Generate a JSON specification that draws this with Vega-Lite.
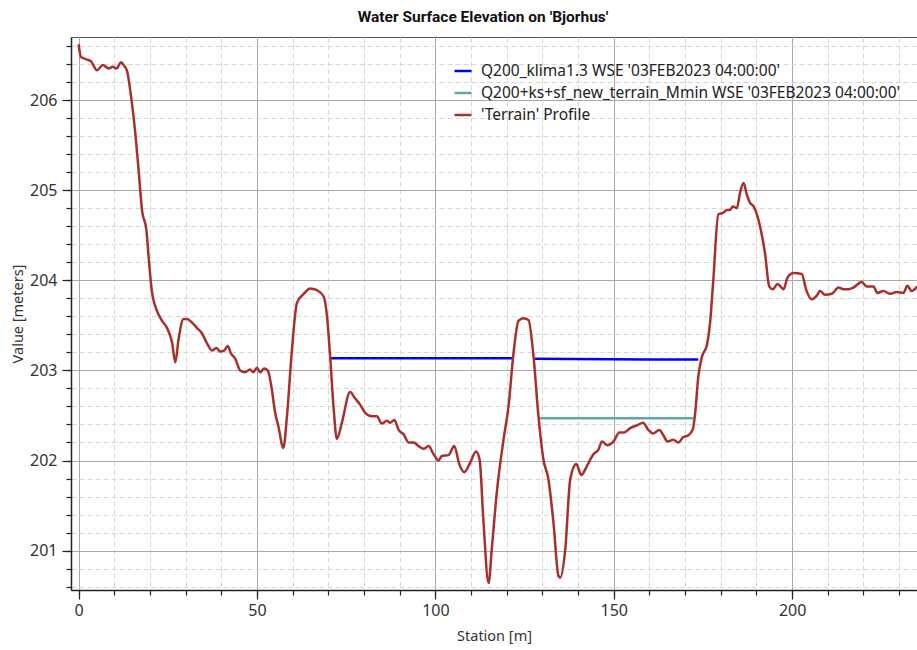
{
  "$schema": "https://vega.github.io/schema/vega-lite/v6.json",
  "width": 846,
  "height": 553,
  "autosize": "none",
  "padding": {"left": 71, "top": 37, "right": 0, "bottom": 60},
  "background": "white",
  "title": {
    "text": "Water Surface Elevation on 'Bjorhus'",
    "fontSize": 15.5,
    "fontWeight": "bold",
    "font": "Roboto",
    "color": "#111",
    "offset": 12,
    "dx": -11
  },
  "config": {
    "font": "Noto Sans",
    "view": {"stroke": "#555", "strokeWidth": 1}
  },
  "datasets": {
    "wse": [
      {"station": 70.6, "wse": 203.135, "series": "Q200_klima1.3 WSE '03FEB2023 04:00:00'", "seg": "a1"},
      {"station": 121.5, "wse": 203.135, "series": "Q200_klima1.3 WSE '03FEB2023 04:00:00'", "seg": "a1"},
      {"station": 127.5, "wse": 203.13, "series": "Q200_klima1.3 WSE '03FEB2023 04:00:00'", "seg": "a2"},
      {"station": 137.7, "wse": 203.127, "series": "Q200_klima1.3 WSE '03FEB2023 04:00:00'", "seg": "a2"},
      {"station": 159.7, "wse": 203.122, "series": "Q200_klima1.3 WSE '03FEB2023 04:00:00'", "seg": "a2"},
      {"station": 173.7, "wse": 203.12, "series": "Q200_klima1.3 WSE '03FEB2023 04:00:00'", "seg": "a2"},
      {"station": 129.2, "wse": 202.47, "series": "Q200+ks+sf_new_terrain_Mmin WSE '03FEB2023 04:00:00'", "seg": "b1"},
      {"station": 172.3, "wse": 202.47, "series": "Q200+ks+sf_new_terrain_Mmin WSE '03FEB2023 04:00:00'", "seg": "b1"}
    ],
    "terrain": [
      {"station": 0, "elev": 206.62}, {"station": 0.67, "elev": 206.48}, {"station": 2.35, "elev": 206.45},
      {"station": 3.5, "elev": 206.43}, {"station": 5.15, "elev": 206.33}, {"station": 6.8, "elev": 206.39},
      {"station": 8.4, "elev": 206.35}, {"station": 9.6, "elev": 206.37}, {"station": 10.6, "elev": 206.35},
      {"station": 11.9, "elev": 206.42}, {"station": 12.6, "elev": 206.39}, {"station": 13.6, "elev": 206.32},
      {"station": 14.5, "elev": 206.10}, {"station": 15.9, "elev": 205.63}, {"station": 16.8, "elev": 205.23},
      {"station": 17.8, "elev": 204.77}, {"station": 19.0, "elev": 204.56}, {"station": 19.6, "elev": 204.27},
      {"station": 20.6, "elev": 203.86}, {"station": 21.5, "elev": 203.71}, {"station": 22.4, "elev": 203.62},
      {"station": 23.4, "elev": 203.55}, {"station": 24.8, "elev": 203.47}, {"station": 26.2, "elev": 203.31},
      {"station": 27.1, "elev": 203.09}, {"station": 28.0, "elev": 203.34}, {"station": 29.4, "elev": 203.57},
      {"station": 30.4, "elev": 203.57}, {"station": 31.8, "elev": 203.53}, {"station": 33.2, "elev": 203.47},
      {"station": 34.6, "elev": 203.41}, {"station": 36.0, "elev": 203.30}, {"station": 37.4, "elev": 203.22},
      {"station": 38.6, "elev": 203.25}, {"station": 39.7, "elev": 203.21}, {"station": 40.8, "elev": 203.22},
      {"station": 41.8, "elev": 203.27}, {"station": 42.7, "elev": 203.19}, {"station": 43.9, "elev": 203.13},
      {"station": 45.3, "elev": 203.00}, {"station": 46.7, "elev": 202.98}, {"station": 48.0, "elev": 203.01},
      {"station": 49.0, "elev": 202.98}, {"station": 50.0, "elev": 203.03}, {"station": 50.9, "elev": 202.98},
      {"station": 52.0, "elev": 203.02}, {"station": 53.0, "elev": 203.00}, {"station": 54.2, "elev": 202.78},
      {"station": 55.0, "elev": 202.55}, {"station": 56.0, "elev": 202.38}, {"station": 57.4, "elev": 202.14},
      {"station": 58.4, "elev": 202.49}, {"station": 59.8, "elev": 203.23}, {"station": 61.2, "elev": 203.75},
      {"station": 63.1, "elev": 203.85}, {"station": 64.9, "elev": 203.91}, {"station": 66.8, "elev": 203.89},
      {"station": 68.7, "elev": 203.82}, {"station": 69.6, "elev": 203.61}, {"station": 70.5, "elev": 203.16},
      {"station": 71.5, "elev": 202.57}, {"station": 72.4, "elev": 202.24}, {"station": 73.8, "elev": 202.42},
      {"station": 76.1, "elev": 202.76}, {"station": 77.5, "elev": 202.69}, {"station": 78.9, "elev": 202.62},
      {"station": 80.3, "elev": 202.53}, {"station": 82.2, "elev": 202.49}, {"station": 83.6, "elev": 202.49},
      {"station": 85.0, "elev": 202.41}, {"station": 86.4, "elev": 202.44}, {"station": 87.3, "elev": 202.42},
      {"station": 88.5, "elev": 202.45}, {"station": 89.7, "elev": 202.34}, {"station": 91.1, "elev": 202.29},
      {"station": 92.5, "elev": 202.20}, {"station": 93.9, "elev": 202.20}, {"station": 95.3, "elev": 202.16},
      {"station": 96.7, "elev": 202.13}, {"station": 98.1, "elev": 202.16}, {"station": 99.5, "elev": 202.07},
      {"station": 100.9, "elev": 202.00}, {"station": 101.8, "elev": 202.05}, {"station": 103.7, "elev": 202.06},
      {"station": 105.3, "elev": 202.16}, {"station": 106.7, "elev": 201.96}, {"station": 108.1, "elev": 201.87},
      {"station": 109.8, "elev": 201.98}, {"station": 111.4, "elev": 202.10}, {"station": 112.4, "elev": 202.01},
      {"station": 113.5, "elev": 201.31}, {"station": 114.9, "elev": 200.64}, {"station": 115.8, "elev": 201.01},
      {"station": 117.2, "elev": 201.64}, {"station": 119.1, "elev": 202.23}, {"station": 120.5, "elev": 202.60},
      {"station": 121.9, "elev": 203.19}, {"station": 123.3, "elev": 203.55}, {"station": 124.7, "elev": 203.58},
      {"station": 126.1, "elev": 203.56}, {"station": 127.5, "elev": 203.16}, {"station": 128.9, "elev": 202.49},
      {"station": 130.3, "elev": 202.01}, {"station": 131.7, "elev": 201.79}, {"station": 133.1, "elev": 201.31},
      {"station": 134.5, "elev": 200.72}, {"station": 135.0, "elev": 200.70}, {"station": 136.4, "elev": 201.01},
      {"station": 137.8, "elev": 201.79}, {"station": 139.5, "elev": 201.96}, {"station": 140.9, "elev": 201.84},
      {"station": 142.5, "elev": 201.94}, {"station": 144.3, "elev": 202.07}, {"station": 145.7, "elev": 202.12},
      {"station": 146.7, "elev": 202.21}, {"station": 148.2, "elev": 202.17}, {"station": 149.9, "elev": 202.21},
      {"station": 151.6, "elev": 202.31}, {"station": 152.9, "elev": 202.31}, {"station": 154.6, "elev": 202.36},
      {"station": 156.5, "elev": 202.39}, {"station": 158.2, "elev": 202.42}, {"station": 159.7, "elev": 202.34},
      {"station": 161.1, "elev": 202.30}, {"station": 162.8, "elev": 202.34}, {"station": 163.9, "elev": 202.28},
      {"station": 165.1, "elev": 202.21}, {"station": 166.7, "elev": 202.23}, {"station": 168.1, "elev": 202.20},
      {"station": 169.5, "elev": 202.26}, {"station": 170.9, "elev": 202.28}, {"station": 172.2, "elev": 202.35},
      {"station": 172.8, "elev": 202.52}, {"station": 173.7, "elev": 202.93}, {"station": 174.7, "elev": 203.15},
      {"station": 176.1, "elev": 203.28}, {"station": 177.0, "elev": 203.53}, {"station": 177.9, "elev": 204.00},
      {"station": 179.3, "elev": 204.73}, {"station": 180.7, "elev": 204.75}, {"station": 181.7, "elev": 204.78},
      {"station": 182.6, "elev": 204.78}, {"station": 183.4, "elev": 204.82}, {"station": 184.5, "elev": 204.80},
      {"station": 185.4, "elev": 204.97}, {"station": 186.4, "elev": 205.08}, {"station": 187.3, "elev": 204.95},
      {"station": 188.2, "elev": 204.86}, {"station": 189.2, "elev": 204.82}, {"station": 191.0, "elev": 204.60},
      {"station": 192.4, "elev": 204.30}, {"station": 193.6, "elev": 203.93}, {"station": 194.6, "elev": 203.90},
      {"station": 195.9, "elev": 203.96}, {"station": 197.6, "elev": 203.90}, {"station": 198.7, "elev": 204.03},
      {"station": 200.4, "elev": 204.08}, {"station": 202.7, "elev": 204.07}, {"station": 203.9, "elev": 203.90},
      {"station": 205.5, "elev": 203.79}, {"station": 206.9, "elev": 203.83}, {"station": 207.8, "elev": 203.88},
      {"station": 209.2, "elev": 203.84}, {"station": 211.1, "elev": 203.85}, {"station": 213.0, "elev": 203.92},
      {"station": 214.4, "elev": 203.90}, {"station": 215.8, "elev": 203.90}, {"station": 217.2, "elev": 203.92},
      {"station": 219.5, "elev": 203.98}, {"station": 220.9, "elev": 203.93}, {"station": 222.8, "elev": 203.93},
      {"station": 223.9, "elev": 203.86}, {"station": 225.6, "elev": 203.88}, {"station": 227.5, "elev": 203.85},
      {"station": 229.3, "elev": 203.87}, {"station": 231.2, "elev": 203.86}, {"station": 232.3, "elev": 203.94},
      {"station": 233.5, "elev": 203.88}, {"station": 235.0, "elev": 203.93}
    ]
  },
  "layer": [
    {
      "data": {"name": "wse"},
      "mark": {"type": "line", "strokeWidth": 2.5, "clip": true},
      "encoding": {
        "x": {
          "field": "station", "type": "quantitative",
          "scale": {"domain": [-2.13, 235.0], "nice": false, "zero": false},
          "axis": {
            "orient": "bottom",
            "values": [0,10,20,30,40,50,60,70,80,90,100,110,120,130,140,150,160,170,180,190,200,210,220,230],
            "labels": false, "domain": false, "title": null,
            "tickSize": 5, "tickColor": "#222", "tickWidth": 1.2,
            "grid": true, "gridColor": "#d6d6d6", "gridDash": [5, 3], "gridWidth": 1
          }
        },
        "y": {
          "field": "wse", "type": "quantitative",
          "scale": {"domain": [200.563, 206.70], "nice": false, "zero": false},
          "axis": {
            "orient": "left",
            "values": [200.6,200.8,201.0,201.2,201.4,201.6,201.8,202.0,202.2,202.4,202.6,202.8,203.0,203.2,203.4,203.6,203.8,204.0,204.2,204.4,204.6,204.8,205.0,205.2,205.4,205.6,205.8,206.0,206.2,206.4,206.6],
            "labels": false, "domain": false, "title": null,
            "tickSize": 5, "tickColor": "#222", "tickWidth": 1.2,
            "grid": true, "gridColor": "#d6d6d6", "gridDash": [5, 3], "gridWidth": 1
          }
        },
        "detail": {"field": "seg"},
        "color": {
          "field": "series", "type": "nominal",
          "scale": {
            "domain": ["Q200_klima1.3 WSE '03FEB2023 04:00:00'", "Q200+ks+sf_new_terrain_Mmin WSE '03FEB2023 04:00:00'", "'Terrain' Profile"],
            "range": ["#0000ff", "#5fa9a4", "#a8302c"]
          },
          "legend": {
            "orient": "none",
            "legendX": 382,
            "legendY": 24,
            "title": null,
            "padding": 0,
            "symbolType": "stroke",
            "symbolSize": 289,
            "symbolStrokeWidth": 2.5,
            "labelFontSize": 15.5,
            "labelColor": "#222",
            "labelOffset": 8,
            "labelLimit": 700,
            "rowPadding": 3
          }
        }
      }
    },
    {
      "data": {"name": "terrain"},
      "transform": [{"calculate": "\"'Terrain' Profile\"", "as": "series"}],
      "mark": {"type": "line", "strokeWidth": 2.5, "interpolate": "monotone", "clip": true},
      "encoding": {
        "x": {
          "field": "station", "type": "quantitative",
          "axis": {
            "orient": "bottom",
            "values": [0, 50, 100, 150, 200],
            "format": "d",
            "title": "Station [m]",
            "grid": true, "gridColor": "#a9a9a9", "gridWidth": 1,
            "domain": true, "domainColor": "#222", "domainWidth": 1.5,
            "tickSize": 9, "tickColor": "#222", "tickWidth": 1.2,
            "labelFontSize": 16, "labelColor": "#333", "labelPadding": 3,
            "titleFontSize": 14.5, "titleFontWeight": "normal", "titleColor": "#333", "titlePadding": 11
          }
        },
        "y": {
          "field": "elev", "type": "quantitative",
          "axis": {
            "orient": "left",
            "values": [201, 202, 203, 204, 205, 206],
            "format": "d",
            "title": "Value [meters]",
            "grid": true, "gridColor": "#a9a9a9", "gridWidth": 1,
            "domain": true, "domainColor": "#222", "domainWidth": 1.5,
            "tickSize": 9, "tickColor": "#222", "tickWidth": 1.2,
            "labelFontSize": 16, "labelColor": "#333", "labelPadding": 5,
            "titleFontSize": 14.5, "titleFontWeight": "normal", "titleColor": "#333", "titlePadding": 4
          }
        },
        "color": {"field": "series", "type": "nominal"}
      }
    }
  ],
  "resolve": {"axis": {"x": "independent", "y": "independent"}}
}
